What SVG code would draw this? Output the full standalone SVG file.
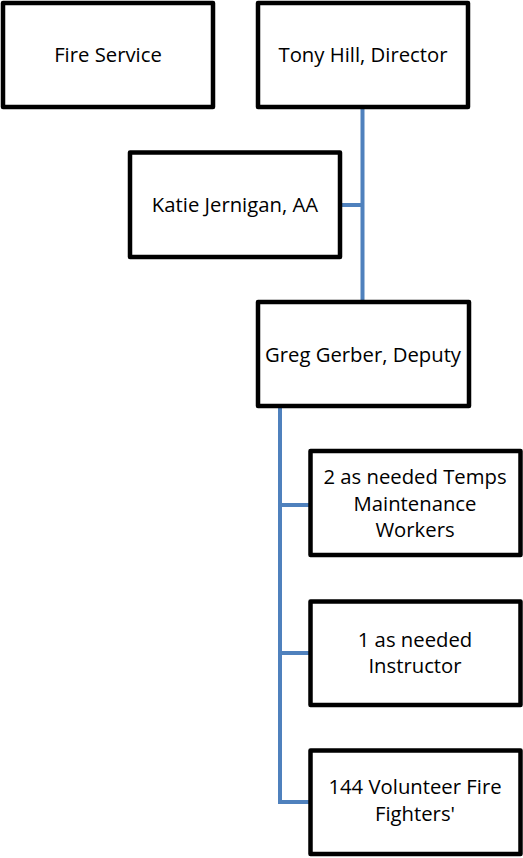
<svg xmlns="http://www.w3.org/2000/svg" width="523" height="858" viewBox="0 0 523 858">
<style>
.box{fill:#fff;stroke:#000;stroke-width:4.5;stroke-linejoin:round}
.lbl{font-family:"Open Sans","Noto Sans","Liberation Sans",sans-serif;font-size:20.3px;fill:#000;text-anchor:middle}
.conn{fill:none;stroke:#4F81BD;stroke-width:4}
</style>
<rect width="523" height="858" fill="#fff"/>
<g id="connectors">
<path class="conn" d="M362.5 107 V302 M340 205 H362.5"/>
<path class="conn" d="M280 406 V802 H310 M280 505 H310 M280 653 H310"/>
</g>
<g id="fire-service"><rect class="box" x="3" y="3" width="210" height="104"/><text class="lbl" x="108" y="62">Fire Service</text></g>
<g id="tony-hill"><rect class="box" x="258" y="3" width="210" height="104"/><text class="lbl" x="363" y="62">Tony Hill, Director</text></g>
<g id="katie-jernigan"><rect class="box" x="130" y="152.5" width="210" height="104.5"/><text class="lbl" x="235" y="212">Katie Jernigan, AA</text></g>
<g id="greg-gerber"><rect class="box" x="258" y="302" width="211" height="104"/><text class="lbl" x="363" y="362">Greg Gerber, Deputy</text></g>
<g id="temps"><rect class="box" x="310.5" y="451" width="210" height="104"/><text class="lbl" x="415" y="484">2 as needed Temps</text><text class="lbl" x="415" y="510.5">Maintenance</text><text class="lbl" x="415" y="537">Workers</text></g>
<g id="instructor"><rect class="box" x="310.5" y="601.5" width="210" height="103.5"/><text class="lbl" x="415" y="646.5">1 as needed</text><text class="lbl" x="415" y="673">Instructor</text></g>
<g id="volunteers"><rect class="box" x="310.5" y="750.5" width="210" height="103.5"/><text class="lbl" x="415" y="794">144 Volunteer Fire</text><text class="lbl" x="415" y="820.5">Fighters'</text></g>
</svg>
